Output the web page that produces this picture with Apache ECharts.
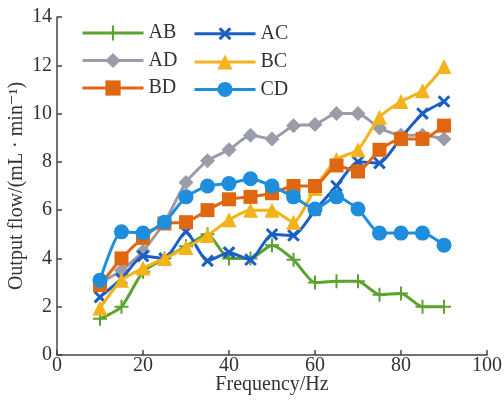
<!DOCTYPE html>
<html><head><meta charset="utf-8">
<script src="https://cdn.jsdelivr.net/npm/echarts@6/dist/echarts.min.js"></script>
<style>html,body{margin:0;padding:0;background:#fff}#c{width:504px;height:401px}</style>
</head><body><div id="c"></div>
<script>
const freq = [10,15,20,25,30,35,40,45,50,55,60,65,70,75,80,85,90];
const AB = [1.5,2.0,3.45,4.0,4.5,5.0,4.0,4.0,4.55,3.95,3.0,3.05,3.05,2.5,2.55,2.0,2.0];
const AC = [2.4,3.15,4.1,4.0,5.1,3.9,4.25,3.95,5.0,4.95,6.0,7.0,8.0,7.95,9.0,10.0,10.5];
const AD = [3.0,3.5,4.3,5.5,7.15,8.05,8.5,9.1,8.95,9.5,9.55,10.0,10.0,9.4,9.1,9.1,8.95];
const BC = [1.95,3.1,3.6,4.0,4.45,4.95,5.6,6.0,6.0,5.5,6.9,8.1,8.5,9.85,10.5,10.95,11.95];
const BD = [2.9,4.0,4.85,5.45,5.5,6.0,6.45,6.55,6.7,7.0,7.0,7.85,7.6,8.5,8.95,8.95,9.5];
const CD = [3.1,5.1,5.05,5.5,6.55,7.0,7.1,7.3,7.0,6.55,6.05,6.55,6.05,5.05,5.05,5.05,4.55];
const names = ['AB','AC','AD','BC','BD','CD'];
const colors = ['#5ba22e','#1b5ec4','#9b9ca9','#f4b31a','#e0670f','#1e8ddc'];
const plusPath = 'path://M-1,-7L1,-7L1,-1L7,-1L7,1L1,1L1,7L-1,7L-1,1L-7,1L-7,-1L-1,-1Z';
const xPath = 'path://M-1.4,-7L1.4,-7L1.4,-1.4L7,-1.4L7,1.4L1.4,1.4L1.4,7L-1.4,7L-1.4,1.4L-7,1.4L-7,-1.4L-1.4,-1.4Z';
const symbols = [plusPath, xPath, 'diamond', 'triangle', 'rect', 'circle'];
const sizes = [14, 15, 15, 15, 14, 15];
const rot = [0, 45, 0, 0, 0, 0];
const dataSets = [AB, AC, AD, BC, BD, CD];
const font = '"Liberation Serif","DejaVu Serif",serif';
const series = names.map((n,i)=>({
  name:n, type:'line', smooth:0.2,
  data: freq.map((f,j)=>[f,dataSets[i][j]]),
  symbol: symbols[i], symbolSize: sizes[i], symbolRotate: rot[i],
  itemStyle:{color:colors[i]}, lineStyle:{color:colors[i], width:3},
  z: [2,3,1,4,5,6][i]
}));
const legendCommon = {orient:'vertical', top:23, padding:0, itemWidth:61, itemHeight:19, itemGap:7.5,
  lineStyle:{width:3},
  textStyle:{fontFamily:font, fontSize:20, color:'#333'}};
const chart = echarts.init(document.getElementById('c'));
chart.setOption({
  animation:false,
  grid:{left:57,right:17,top:17,bottom:46, containLabel:false, outerBoundsMode:'none'},
  legend:[
    Object.assign({data:['AB','AD','BD'], left:81}, legendCommon),
    Object.assign({data:['AC','BC','CD'], left:193}, legendCommon)
  ],
  xAxis:{type:'value', min:0, max:100, interval:20, name:'Frequency/Hz', nameLocation:'middle', nameGap:20, nameMoveOverlap:false,
    nameTextStyle:{fontFamily:font, fontSize:20, color:'#333'},
    axisLine:{lineStyle:{color:'#444', width:1.5}}, axisTick:{inside:true, length:5, lineStyle:{color:'#444',width:1.5}},
    axisLabel:{fontFamily:font, fontSize:20, color:'#333', margin:1}, splitLine:{show:false}},
  yAxis:{type:'value', min:0, max:14, interval:2, name:'Output flow/(mL · min⁻¹)', nameLocation:'middle', nameGap:30, nameMoveOverlap:false,
    nameTextStyle:{fontFamily:font, fontSize:20, color:'#333'},
    axisLine:{show:true, lineStyle:{color:'#444', width:1.5}}, axisTick:{show:true, inside:true, length:5, lineStyle:{color:'#444',width:1.5}},
    axisLabel:{fontFamily:font, fontSize:20, color:'#333', margin:5}, splitLine:{show:false}},
  series: series
});
</script></body></html>
